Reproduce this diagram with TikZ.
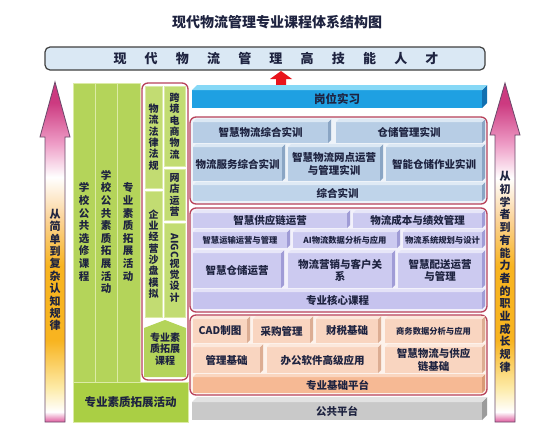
\documentclass[tikz,border=0pt]{standalone}
\usepackage{fontspec}
\setmainfont{Noto Sans CJK SC}
\usetikzlibrary{calc}
\definecolor{txt}{HTML}{1E2340}
\definecolor{bfront}{HTML}{B7CDE5}
\definecolor{bside}{HTML}{8AA5C4}
\definecolor{btop}{HTML}{DCE8F4}
\definecolor{bbfront}{HTML}{BFD4EA}
\definecolor{bbside}{HTML}{8AA5C4}
\definecolor{bbtop}{HTML}{DFEAF5}
\definecolor{pfront}{HTML}{CCCAF0}
\definecolor{pside}{HTML}{A09CD6}
\definecolor{ptop}{HTML}{E7E6F8}
\definecolor{pbfront}{HTML}{C6C3EE}
\definecolor{pbside}{HTML}{A09CD6}
\definecolor{pbtop}{HTML}{E4E2F7}
\definecolor{ofront}{HTML}{F9D5C0}
\definecolor{oside}{HTML}{DCAD93}
\definecolor{otop}{HTML}{FCE8DC}
\definecolor{obfront}{HTML}{F6B994}
\definecolor{obside}{HTML}{D99A76}
\definecolor{obtop}{HTML}{FAD6C0}
\definecolor{cfront}{HTML}{1FA0E2}
\definecolor{cside}{HTML}{1270B0}
\definecolor{ctop}{HTML}{86D8F6}
\definecolor{gfront}{HTML}{C9C9C9}
\definecolor{gside}{HTML}{9C9C9C}
\definecolor{gtop}{HTML}{E2E2E2}
\definecolor{lime}{HTML}{B4D45A}
\definecolor{limeline}{HTML}{DCEBA6}
\definecolor{limelt}{HTML}{C2DC72}
\definecolor{limebot}{HTML}{AACF44}
\definecolor{grpred}{HTML}{B8425A}
\definecolor{g1fill}{HTML}{EEF3F9}
\definecolor{g2fill}{HTML}{F2F1FB}
\definecolor{g3fill}{HTML}{FDF2EB}
\definecolor{bannerfill}{HTML}{DAE8F4}
\definecolor{arrred}{HTML}{E8141C}
\definecolor{arrline}{HTML}{6A4A6A}
\definecolor{apink}{HTML}{E05C9E}
\definecolor{ayel}{HTML}{FDEBA8}
\definecolor{aorg}{HTML}{F8B420}
\definecolor{alor}{HTML}{FBD49A}
\definecolor{alpk}{HTML}{EE9CC6}
\definecolor{amag}{HTML}{CC3A80}
\pgfdeclareverticalshading{arrshade}{100bp}{color(0bp)=(apink); color(25bp)=(apink); color(26.5bp)=(white); color(30bp)=(ayel); color(37bp)=(aorg); color(48bp)=(aorg); color(55bp)=(alor); color(61bp)=(white); color(66bp)=(alpk); color(72bp)=(amag); color(75bp)=(amag); color(100bp)=(amag)}
\def\cdp{3}
\newcommand\cubeitem[7]{%
  \node[cubebox, fill=#6front, minimum width={#4pt-#2pt}, minimum height={#5pt-#3pt}] (#1) at (#2,#3) {#7};
  \fill[#6side] (#1.north east) -- ++(\cdp,-\cdp) -- ([shift={(\cdp,-\cdp)}]#1.south east) -- (#1.south east) -- cycle;
  \fill[#6top] (#1.north west) -- ++(\cdp,-\cdp) -- ([shift={(\cdp,-\cdp)}]#1.north east) -- (#1.north east) -- cycle;
}
\newcommand\flatitem[6]{%
  \node[flatbox, fill=#6, minimum width={#4pt-#2pt}, minimum height={#5pt-#3pt}] (#1) at (#2,#3) {};
}
\begin{document}
\begin{tikzpicture}[x=1pt,y=-1pt,
  cubebox/.style={anchor=north west, inner sep=0pt, outer sep=0pt, align=center, text=txt, font=\bfseries\fontsize{10.5}{12.5}\selectfont},
  flatbox/.style={anchor=north west, inner sep=0pt, outer sep=0pt, draw=limeline, line width=0.6pt},
  vt/.style={align=center, inner sep=0pt, text=txt, font=\bfseries\fontsize{10.5}{12.6}\selectfont},
  vts/.style={align=center, inner sep=0pt, text=txt, font=\bfseries\fontsize{10}{11.3}\selectfont},
  grp/.style={draw=grpred, line width=1.3pt, rounded corners=6pt},
  bigarrow/.style={draw=arrline, line width=0.8pt, shade, shading=arrshade}
]
\useasboundingbox (0,0) rectangle (554,431);
\fill[white] (0,0) rectangle (554,431);

% title
\node[text=txt, font=\bfseries\fontsize{14}{16}\selectfont] (title) at (277,22) {现代物流管理专业课程体系结构图};

% banner
\node[draw=black!75, line width=1.2pt, rounded corners=5pt, fill=bannerfill, minimum width=440pt, minimum height=23pt, inner sep=0pt] (banner) at (265,58.5) {};
\node[text=txt, inner sep=0pt, font=\bfseries\fontsize{13}{15}\selectfont] (bannertxt) at (276,58.5)
 {\makebox[31.2pt]{现}\makebox[31.2pt]{代}\makebox[31.2pt]{物}\makebox[31.2pt]{流}\makebox[31.2pt]{管}\makebox[31.2pt]{理}\makebox[31.2pt]{高}\makebox[31.2pt]{技}\makebox[31.2pt]{能}\makebox[31.2pt]{人}\makebox[31.2pt]{才}};

% red up arrow
\fill[arrred] (281,71) -- (292,79) -- (286,79) -- (286,87) -- (276,87) -- (276,79) -- (270,79) -- cycle;

% big side arrows
\draw[bigarrow] (55,82) -- (70,137) -- (65,137) -- (65,422) -- (45,422) -- (45,137) -- (40,137) -- cycle;
\draw[bigarrow] (505,83) -- (520,135) -- (515,135) -- (515,422) -- (495,422) -- (495,135) -- (490,135) -- cycle;
\node[vt, font=\bfseries\fontsize{11}{12.4}\selectfont] (ltxt) at (55,270) {从\\简\\单\\到\\复\\杂\\认\\知\\规\\律};
\node[vt, font=\bfseries\fontsize{11}{12.7}\selectfont] (rtxt) at (505,272) {从\\初\\学\\者\\到\\有\\能\\力\\者\\的\\职\\业\\成\\长\\规\\律};

% green columns
\flatitem{col1}{73}{83}{95}{382}{lime}
\flatitem{col2}{95}{83}{117}{382}{lime}
\flatitem{col3}{117}{83}{140}{382}{lime}
\node[vt] (t1) at (84,232) {学\\校\\公\\共\\选\\修\\课\\程};
\node[vt] (t2) at (106,232) {学\\校\\公\\共\\素\\质\\拓\\展\\活\\动};
\node[vt] (t3) at (128,232) {专\\业\\素\\质\\拓\\展\\活\\动};
\node[flatbox, fill=limebot, minimum width=115pt, minimum height=40pt, text=txt, font=\bfseries\fontsize{11.5}{13}\selectfont] (bot) at (73,382) {专业素质拓展活动};

% red group of professional extension courses
\draw[grp, fill=white] (142,83) rectangle (188,380);
\flatitem{e1}{145}{86}{162}{188}{limelt}
\flatitem{e2}{145}{191}{162}{317}{limelt}
\flatitem{e3}{164}{86}{185}{166}{limelt}
\flatitem{e4}{164}{169}{185}{220}{limelt}
\flatitem{e5}{164}{223}{185}{317}{limelt}
\node[vts] (et1) at (153.5,137) {物\\流\\法\\律\\法\\规};
\node[vts] (et2) at (153.5,254) {企\\业\\经\\营\\沙\\盘\\模\\拟};
\node[vts] (et3) at (174.5,126) {跨\\境\\电\\商\\物\\流};
\node[vts] (et4) at (174.5,195) {网\\店\\运\\营};
\node[vts] (et5) at (174.5,268) {\rotatebox{-90}{AIGC}\\视\\觉\\设\\计};
\fill[lime] (144,328) -- (165,320) -- (186,328) -- (186,377) -- (144,377) -- cycle;
\node[vts, font=\bfseries\fontsize{10}{11.5}\selectfont] (ext) at (165,349) {专业素\\质拓展\\课程};

% job internship
\def\cdp{5}
\cubeitem{job}{192}{90}{482}{108}{c}{\fontsize{11.5}{13}\selectfont 岗位实习}
\def\cdp{3}

% group 1
\draw[grp, fill=g1fill] (190,117) rectangle (487,204);
\cubeitem{s1}{193}{122}{328}{143}{b}{智慧物流综合实训}
\cubeitem{s2}{336}{122}{482}{143}{b}{仓储管理实训}
\cubeitem{s3}{193}{147}{282}{181}{b}{物流服务综合实训}
\cubeitem{s4}{288}{147}{380}{181}{b}{智慧物流网点运营\\与管理实训}
\cubeitem{s5}{386}{147}{482}{181}{b}{智能仓储作业实训}
\cubeitem{s6}{193}{185}{482}{201}{bb}{综合实训}

% group 2
\draw[grp, fill=g2fill] (190,208) rectangle (487,312);
\cubeitem{c1}{193}{213}{347}{228}{p}{智慧供应链运营}
\cubeitem{c2}{353}{213}{482}{228}{p}{物流成本与绩效管理}
\cubeitem{c3}{193}{232}{287}{248}{p}{\fontsize{8.3}{10}\selectfont 智慧运输运营与管理}
\cubeitem{c4}{293}{232}{397}{248}{p}{\fontsize{8.3}{10}\selectfont AI物流数据分析与应用}
\cubeitem{c5}{403}{232}{482}{248}{p}{\fontsize{8.3}{10}\selectfont 物流系统规划与设计}
\cubeitem{c6}{193}{253}{281}{288}{p}{智慧仓储运营}
\cubeitem{c7}{288}{253}{392}{288}{p}{物流营销与客户关\\系}
\cubeitem{c8}{398}{253}{482}{288}{p}{智慧配送运营\\与管理}
\cubeitem{c9}{193}{292}{482}{309}{pb}{专业核心课程}

% group 3
\draw[grp, fill=g3fill] (190,315) rectangle (487,395);
\cubeitem{f1}{193}{319}{247}{343}{o}{CAD制图}
\cubeitem{f2}{253}{319}{310}{343}{o}{采购管理}
\cubeitem{f3}{316}{319}{378}{343}{o}{财税基础}
\cubeitem{f4}{385}{319}{482}{343}{o}{\fontsize{8.3}{10}\selectfont 商务数据分析与应用}
\cubeitem{f5}{193}{347}{260}{373}{o}{管理基础}
\cubeitem{f6}{267}{347}{378}{373}{o}{办公软件高级应用}
\cubeitem{f7}{385}{347}{482}{373}{o}{智慧物流与供应\\链基础}
\cubeitem{f8}{193}{377}{482}{393}{ob}{专业基础平台}

% public platform
\def\cdp{5}
\cubeitem{pub}{192}{402}{482}{420}{g}{公共平台}
\end{tikzpicture}
\end{document}
